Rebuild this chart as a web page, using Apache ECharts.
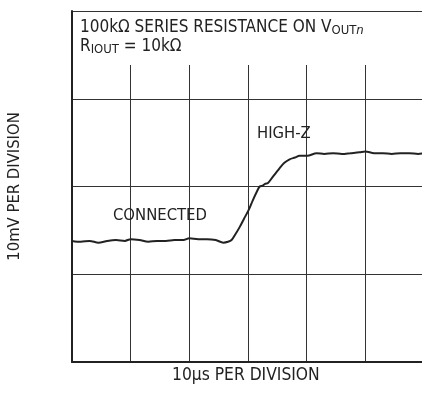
<!DOCTYPE html>
<html>
<head>
<meta charset="utf-8">
<script src="https://cdn.jsdelivr.net/npm/echarts@6/dist/echarts.min.js"></script>
<style>
  html, body { margin: 0; padding: 0; background: #fff; }
  #scope { width: 422px; height: 417px; }
</style>
</head>
<body>
<div id="scope"></div>
<script>
// time in µs (10µs per division), voltage in mV (10mV per division)
const timeUs = [0, 1.5, 3, 4.5, 6, 7.5, 9, 10, 11.5, 13, 14.5, 16, 17.5, 19, 20, 21.5, 23, 24.5,
  25.8, 26.6, 27.2, 27.8, 28.6, 29.3, 30.1, 30.8, 31.5, 32.0, 32.5, 32.9, 33.4, 34.0, 34.7, 35.4,
  36.2, 37.1, 38.0, 38.8, 40.1, 41.7, 43, 44.5, 46, 47.5, 49, 50, 51.5, 53, 54.5, 56, 57.5, 59, 60];
const voltageMv = [13.8, 13.7, 13.8, 13.6, 13.8, 13.9, 13.8, 14.0, 13.9, 13.7, 13.8, 13.8, 13.9, 13.9, 14.1, 14.0, 14.0, 13.9,
  13.6, 13.7, 13.9, 14.5, 15.4, 16.3, 17.3, 18.4, 19.4, 20.0, 20.1, 20.3, 20.4, 20.9, 21.5, 22.1,
  22.7, 23.1, 23.3, 23.5, 23.5, 23.8, 23.7, 23.8, 23.7, 23.8, 23.9, 24.0, 23.8, 23.8, 23.7, 23.8, 23.8, 23.7, 23.8];
const xTicks = [0, 60, 10];
const yTicks = [0, 40, 10];

const font = "'Liberation Sans Narrow', 'DejaVu Sans Condensed', 'Liberation Sans', sans-serif";
const ink = '#222';

const myChart = echarts.init(document.getElementById('scope'));

const option = {
  animation: false,
  textStyle: { fontFamily: font },
  grid: { left: 72, top: 11, width: 352, height: 351, outerBoundsMode: 'none', containLabel: false },
  title: {
    left: 75,
    top: 13,
    text: '100kΩ SERIES RESISTANCE ON V{sub|OUT}{subi|n}\nR{sub|IOUT} = 10kΩ',
    textStyle: {
      fontFamily: font, fontSize: 17, fontWeight: 'normal', color: ink, lineHeight: 19,
      rich: {
        sub: { fontFamily: font, fontSize: 13, color: ink, padding: [7, 0, 0, 0], lineHeight: 19 },
        subi: { fontFamily: font, fontSize: 13, color: ink, fontStyle: 'italic', padding: [7, 0, 0, 0], lineHeight: 19 },
      },
    },
  },
  graphic: [
    { type: 'rect', left: 74, top: 12, shape: { width: 350, height: 53 }, style: { fill: '#fff' }, z: 1 },
    { type: 'text', left: 113, top: 207, style: { text: 'CONNECTED', font: '16.5px ' + font, fill: ink }, z: 3 },
    { type: 'text', left: 257, top: 125, style: { text: 'HIGH-Z', font: '16.5px ' + font, fill: ink }, z: 3 },
    { type: 'text', left: 172, top: 367, style: { text: '10µs PER DIVISION', font: '17.3px ' + font, fill: ink } },
  ],
  xAxis: {
    type: 'value',
    min: xTicks[0], max: xTicks[1], interval: xTicks[2],
    axisLine: { show: true, onZero: false, lineStyle: { color: ink, width: 2 } },
    axisTick: { show: false },
    axisLabel: { show: false },
    splitLine: { show: true, lineStyle: { color: '#333', width: 1 } },
  },
  yAxis: {
    type: 'value',
    min: yTicks[0], max: yTicks[1], interval: yTicks[2],
    name: '10mV PER DIVISION',
    nameLocation: 'middle',
    nameGap: 49,
    nameTextStyle: { fontFamily: font, fontSize: 16.5, color: ink },
    axisLine: { show: true, onZero: false, lineStyle: { color: ink, width: 2 } },
    axisTick: { show: false },
    axisLabel: { show: false },
    splitLine: { show: true, lineStyle: { color: '#333', width: 1 } },
  },
  series: [
    {
      type: 'line',
      data: timeUs.map((t, i) => [t, voltageMv[i]]),
      showSymbol: false,
      smooth: 0.3,
      lineStyle: { color: ink, width: 2 },
      z: 4,
    },
  ],
};
myChart.setOption(option);
</script>
</body>
</html>
